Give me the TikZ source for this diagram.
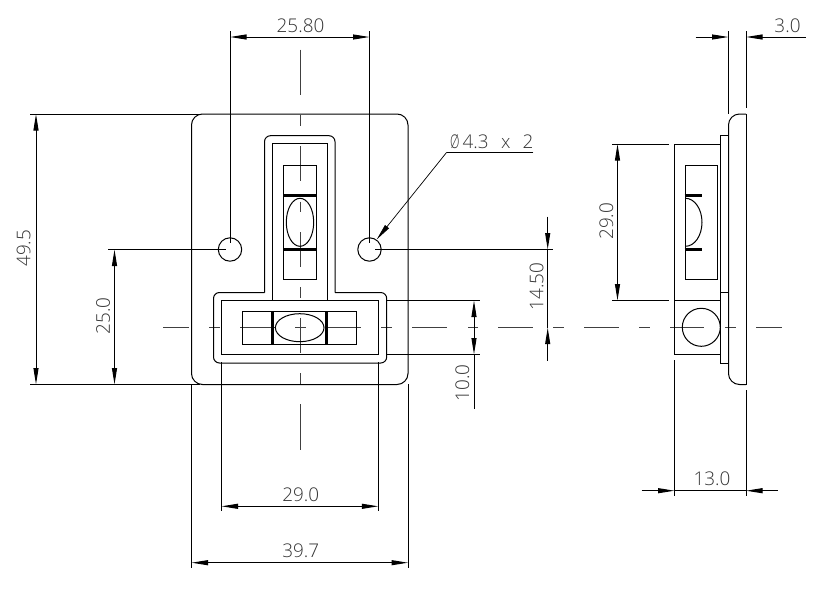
\documentclass[tikz,border=0pt]{standalone}
\usepackage{fontspec}
\usepackage{graphicx}
\usetikzlibrary{arrows.meta}
\newfontfamily\dimfont{Open Sans Light}
\tikzset{
  x=1pt,y=-1pt,
  part/.style={line width=1pt,black},
  thick bar/.style={line width=2.6pt,black},
  centerline/.style={line width=1pt,black!75},
  ext/.style={line width=1pt,black},
  dimline/.style={line width=1pt,black},
  thin leader/.style={line width=0.7pt,black},
  tipend/.style={{Triangle[length=16.5pt,width=5pt]}-},
  tipstart/.style={-{Triangle[length=16.5pt,width=5pt]}},
  tipboth/.style={{Triangle[length=16.5pt,width=5pt]}-{Triangle[length=16.5pt,width=5pt]}},
  dimtext/.style={inner sep=0pt,outer sep=0pt,text=black!80,font=\dimfont\fontsize{18.9pt}{18.9pt}\selectfont},
}
\begin{document}
\begin{tikzpicture}
\useasboundingbox (0,0) rectangle (823,592);
% --- centre lines
\foreach \a/\b in {163/189,209/220,240/275,295/306,326/361,381/392,412/447,468/478,498/533,553/564,584/619,639/650,670/704,725/736,756/782}
  \draw[centerline] (\a,327.7) -- (\b,327.7);
\foreach \a/\b in {49.5/95,114.5/126,146/181,201.5/212,232/267,287/298,317.5/353,373/384,404/450}
  \draw[centerline] (300,\a) -- (300,\b);
% --- front view
\draw[part,rounded corners=11pt] (191.5,114) rectangle (408,384.5);
\draw[part] (230,249.5) circle (11.7);
\draw[part] (369.5,249.5) circle (11.7);
\draw[part,rounded corners=6pt] (264.5,292.5) -- (264.5,135.7) -- (335,135.7) -- (335,292.5);
\draw[part,rounded corners=6pt] (335,292.5) -- (386.7,292.5) -- (386.7,363) -- (213.5,363) -- (213.5,292.5) -- (264.5,292.5);
\draw[part] (272.5,300.5) -- (272.5,143.7) -- (327,143.7) -- (327,300.5);
\draw[part] (221.5,300.5) rectangle (378.3,354.5);
\draw[part] (283.5,165.5) rectangle (316,279);
\draw[thick bar] (283.5,195.5) -- (316.5,195.5);
\draw[thick bar] (283.5,249.5) -- (316.5,249.5);
\draw[part] (300,222.3) ellipse (13.7 and 24);
\draw[part] (242.7,311.7) rectangle (356.7,344);
\draw[thick bar] (272.5,311.5) -- (272.5,344.5);
\draw[thick bar] (326.7,311.5) -- (326.7,344.5);
\draw[part] (299.7,327.7) ellipse (24.3 and 14);
% --- side view
\draw[part,rounded corners=11pt] (746,114) -- (728.5,114) -- (728.5,384.5) -- (746,384.5);
\draw[part] (746,114) -- (746,384.5);
\draw[part] (720,135.7) rectangle (728.5,363);
\draw[part] (720,292.7) -- (728.5,292.7);
\draw[part] (674.5,144) rectangle (720,354.7);
\draw[part] (674.5,300.5) -- (720,300.5);
\draw[part] (685.5,165.5) rectangle (717.7,279);
\draw[thick bar] (684.5,195.5) -- (702,195.5);
\draw[thick bar] (684.5,249.5) -- (702,249.5);
\draw[part] (685.5,198.3) arc[start angle=-90,end angle=90,x radius=16.5,y radius=24];
\draw[part] (701.3,327.3) circle (19);
% --- extension lines
\draw[ext] (230,31) -- (230,243);
\draw[ext] (369.5,31) -- (369.5,243);
\draw[ext] (30,114) -- (200,114);
\draw[ext] (30,384.5) -- (200,384.5);
\draw[ext] (108,249.5) -- (226,249.5);
\draw[ext] (375,249.5) -- (552.7,249.5);
\draw[ext] (386.7,300.5) -- (480,300.5);
\draw[ext] (386.7,354.5) -- (480,354.5);
\draw[ext] (191.5,384) -- (191.5,568);
\draw[ext] (408,384) -- (408,568);
\draw[ext] (221.5,362) -- (221.5,511);
\draw[ext] (378.3,362) -- (378.3,511);
\draw[ext] (612,144) -- (669,144);
\draw[ext] (612,300.5) -- (669,300.5);
\draw[ext] (674.5,360) -- (674.5,496);
\draw[ext] (746,390) -- (746,496);
\draw[ext] (728.5,31) -- (728.5,114);
\draw[ext] (746,31) -- (746,108);
% --- dimension lines
\draw[dimline,tipboth] (230,37) -- (369.5,37);
\draw[dimline,tipboth] (36,114) -- (36,384.5);
\draw[dimline,tipboth] (114.5,249.5) -- (114.5,384.5);
\draw[dimline,tipboth] (221.5,506.3) -- (378.3,506.3);
\draw[dimline,tipboth] (191.5,562.7) -- (408,562.7);
\draw[dimline,tipboth] (617.5,144) -- (617.5,300.5);
\draw[dimline,tipboth] (474,300.5) -- (474,354.5);
\draw[dimline] (474,354.5) -- (474,408.5);
\draw[dimline,tipstart] (547.7,216.7) -- (547.7,249.5);
\draw[dimline] (547.7,249.5) -- (547.7,327.7);
\draw[dimline,tipend] (547.7,327.7) -- (547.7,360.7);
\draw[dimline,tipstart] (695.7,37) -- (728.5,37);
\draw[dimline,tipend] (746,37) -- (805.7,37);
\draw[dimline,tipstart] (641.7,490.7) -- (674.5,490.7);
\draw[dimline] (674.5,490.7) -- (746,490.7);
\draw[dimline,tipend] (746,490.7) -- (778.3,490.7);
% --- hole leader
\coordinate (leaderend) at (533.3,152.3);
\coordinate (leaderknee) at (446.7,152.3);
\coordinate (leadertip) at (376.7,239.5);
\draw[part] (leaderend) -- (leaderknee);
\draw[thin leader,tipstart] (leaderknee) -- (leadertip);
% --- texts
\node[dimtext] (d2580) at (300.5,25.7) {25.80};
\node[dimtext,rotate=90] (d495) at (23.7,248.3) {49.5};
\node[dimtext,rotate=90] (d250) at (103,316) {25.0};
\node[dimtext,rotate=90] (d1450) at (536.7,286.5) {14.50};
\node[dimtext,rotate=90] (d100) at (462.3,383) {10.0};
\node[dimtext] (d290) at (300.7,495) {29.0};
\node[dimtext] (d397) at (300.7,551) {39.7};
\node[dimtext,rotate=90] (d290s) at (606.3,221.3) {29.0};
\node[dimtext] (d130) at (712,479.2) {13.0};
\node[dimtext] (d30) at (787.5,25.5) {3.0};
\node[dimtext,anchor=east] (dhole) at (533.3,141.3) {\scalebox{0.65}[1]{Ø}\hspace{3pt}4.3\hspace{12.5pt}x\hspace{12pt}2};
\end{tikzpicture}
\end{document}
